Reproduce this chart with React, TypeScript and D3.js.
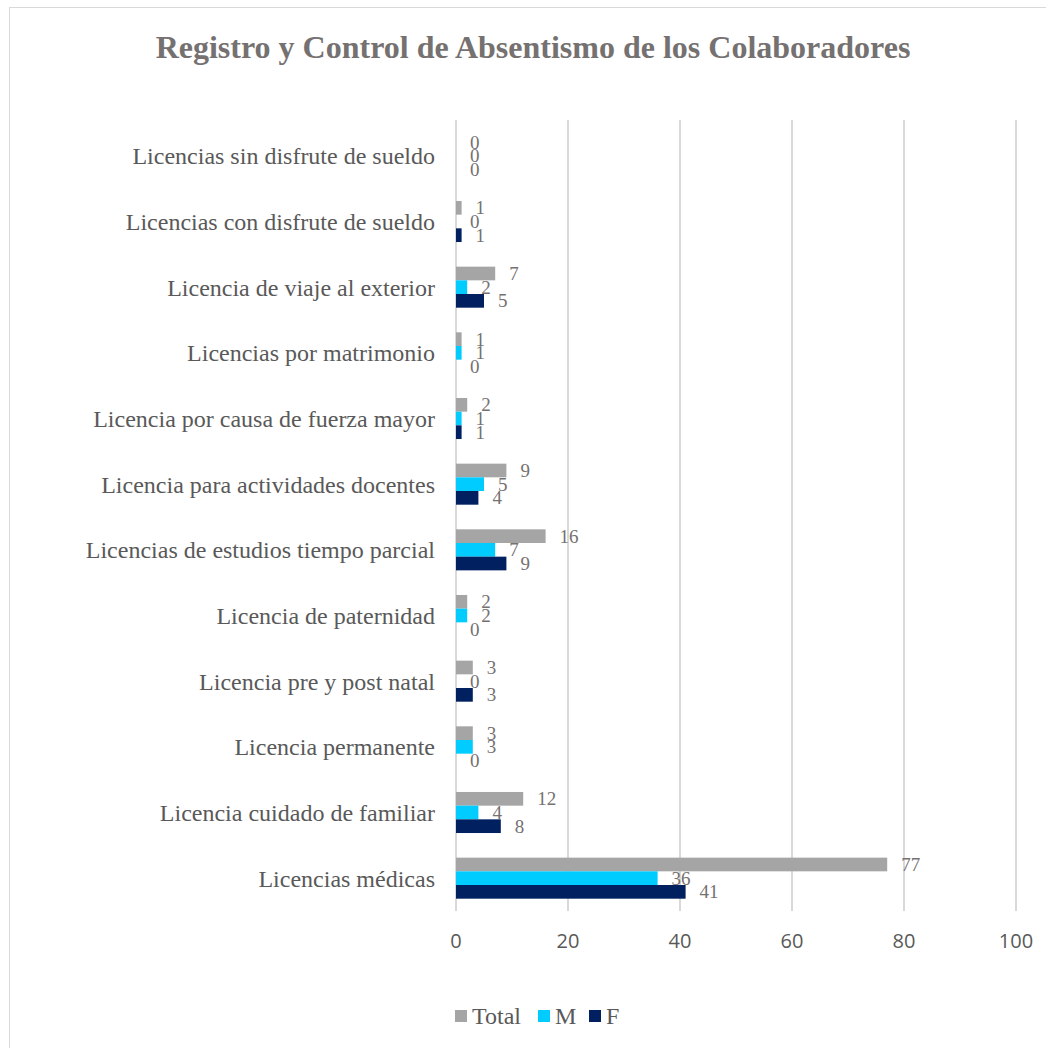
import React from "react";
import * as d3 from "d3";

const title = "Registro y Control de Absentismo de los Colaboradores";
const categories = [
  "Licencias sin disfrute de sueldo",
  "Licencias con disfrute de sueldo",
  "Licencia de viaje al exterior",
  "Licencias por matrimonio",
  "Licencia por causa de fuerza mayor",
  "Licencia para actividades docentes",
  "Licencias de estudios tiempo parcial",
  "Licencia de paternidad",
  "Licencia pre y post natal",
  "Licencia permanente",
  "Licencia cuidado de familiar",
  "Licencias médicas",
];
const totalValues = [0, 1, 7, 1, 2, 9, 16, 2, 3, 3, 12, 77];
const mValues = [0, 0, 2, 1, 1, 5, 7, 2, 0, 3, 4, 36];
const fValues = [0, 1, 5, 0, 1, 4, 9, 0, 3, 0, 8, 41];
const seriesNames = ["Total", "M", "F"];
const seriesColors = ["#a5a5a5", "#00ccff", "#002060"];
const xTicks = [0, 20, 40, 60, 80, 100];

const W = 1046;
const H = 1048;
const plotLeft = 456;
const plotRight = 1016;
const plotTop = 123;
const plotBottom = 911;

export default function App() {
  const series = [totalValues, mValues, fValues];
  const x = d3.scaleLinear().domain([0, 100]).range([plotLeft, plotRight]);
  const y = d3.scaleBand<string>().domain(categories).range([plotTop, plotBottom]).paddingInner(0.375).paddingOuter(0.1875);
  const inner = d3.scaleBand<string>().domain(seriesNames).range([0, y.bandwidth()]);
  const serif = "'Liberation Serif', 'Times New Roman', serif";
  const sans = "'Open Sans', 'Noto Sans', sans-serif";

  const legendItems = [
    { name: "Total", x: 455 },
    { name: "M", x: 538 },
    { name: "F", x: 589 },
  ];

  return (
    <svg width={W} height={H} style={{ position: "absolute", left: 0, top: 0, background: "#fff" }}>
      <rect x={9.5} y={7.5} width={W} height={H} fill="#fff" stroke="#d9d9d9" strokeWidth={1} />
      <text x={533} y={58} textAnchor="middle" fontFamily={serif} fontWeight="bold" fontSize={32} fill="#757171">
        {title}
      </text>
      {xTicks.map((t) => (
        <g key={t}>
          <line x1={x(t)} x2={x(t)} y1={plotTop - 3} y2={plotBottom} stroke="#d9d9d9" strokeWidth={2} />
          <text x={x(t)} y={948} textAnchor="middle" fontFamily={sans} fontSize={20} fill="#595959">
            {t}
          </text>
        </g>
      ))}
      {categories.map((c, i) => (
        <g key={c}>
          <text
            x={435}
            y={(y(c) as number) + y.bandwidth() / 2}
            dy="0.35em"
            textAnchor="end"
            fontFamily={serif}
            fontSize={24}
            fill="#595959"
          >
            {c}
          </text>
          {series.map((vals, s) => {
            const by = (y(c) as number) + (inner(seriesNames[s]) as number);
            const bh = inner.bandwidth();
            return (
              <g key={s}>
                <rect x={x(0)} y={by} width={x(vals[i]) - x(0)} height={bh} fill={seriesColors[s]} />
                <text
                  x={x(vals[i]) + 14}
                  y={by + bh / 2}
                  dy="0.35em"
                  fontFamily={serif}
                  fontSize={19}
                  fill="#757171"
                >
                  {vals[i]}
                </text>
              </g>
            );
          })}
        </g>
      ))}
      {legendItems.map((it, k) => (
        <g key={it.name}>
          <rect x={it.x} y={1010} width={12} height={12} fill={seriesColors[k]} />
          <text x={it.x + 17} y={1016} dy="0.35em" fontFamily={serif} fontSize={24} fill="#595959">
            {it.name}
          </text>
        </g>
      ))}
    </svg>
  );
}
